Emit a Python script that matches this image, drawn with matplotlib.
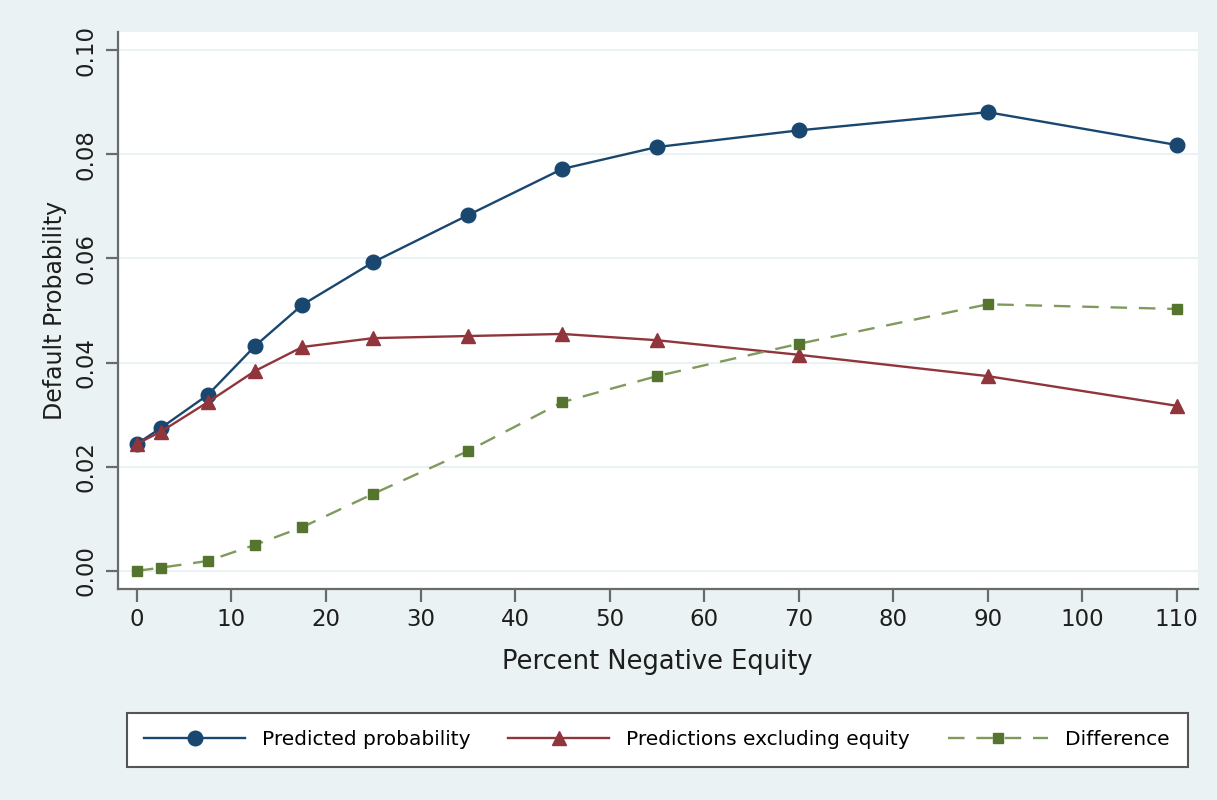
import numpy as np
import matplotlib
matplotlib.use("Agg")
import matplotlib.pyplot as plt

plt.rcParams["font.family"] = ["DejaVu Sans"]

# data
neg_equity = [0, 2.5, 7.5, 12.5, 17.5, 25, 35, 45, 55, 70, 90, 110]
pred_prob = [0.0244, 0.0274, 0.0338, 0.0432, 0.0511, 0.0593, 0.0683, 0.0772, 0.0814, 0.0846, 0.0881, 0.0818]
pred_excl = [0.0244, 0.0267, 0.0324, 0.0384, 0.0430, 0.0447, 0.0451, 0.0455, 0.0443, 0.0415, 0.0374, 0.0317]
difference = [0.0000, 0.0006, 0.0019, 0.0050, 0.0084, 0.0148, 0.0230, 0.0324, 0.0374, 0.0436, 0.0512, 0.0503]
x_ticks = np.arange(0, 111, 10)
y_ticks = [0.00, 0.02, 0.04, 0.06, 0.08, 0.10]

bg = "#EAF2F3"
navy = "#1a476f"
maroon = "#90353b"
green = "#55752f"

fig = plt.figure(figsize=(12.17, 8), dpi=100)
fig.patch.set_facecolor(bg)
ax = fig.add_axes([0.097, 0.264, 0.887, 0.696])
ax.set_facecolor("white")

for y in y_ticks:
    ax.axhline(y, color=bg, lw=1.5, zorder=0)

l1, = ax.plot(neg_equity, pred_prob, color=navy, lw=1.7, marker="o", ms=10.5,
              label="Predicted probability")
l2, = ax.plot(neg_equity, pred_excl, color=maroon, lw=1.7, marker="^", ms=9.5,
              label="Predictions excluding equity")
l3, = ax.plot(neg_equity, difference, color="#7f9a5c", lw=1.7, dashes=(7, 5),
              marker="s", ms=7.5, mfc=green, mec=green, label="Difference")

ax.set_xlim(-2.0, 112.2)
ax.set_ylim(-0.00345, 0.1035)
ax.set_xticks(x_ticks)
ax.set_yticks(y_ticks)
ax.set_yticklabels(["%.2f" % v for v in y_ticks], rotation=90, va="center")

for s in ["top", "right"]:
    ax.spines[s].set_visible(False)
for s in ["left", "bottom"]:
    ax.spines[s].set_color("#6a6a6a")
    ax.spines[s].set_linewidth(1.6)
ax.tick_params(axis="both", direction="out", length=9, width=1.6, color="#6a6a6a",
               labelcolor="#1e1e1e")
ax.tick_params(axis="x", labelsize=16.5, pad=5)
ax.tick_params(axis="y", labelsize=16.5, pad=6)

ax.set_xlabel("Percent Negative Equity", fontsize=18.5, labelpad=13, color="#1e1e1e")
ax.set_ylabel("Default Probability", fontsize=17, labelpad=5, color="#1e1e1e")

leg = fig.legend(handles=[l1, l2, l3], loc="lower left",
                 bbox_to_anchor=(0.104, 0.041, 0.872, 0.068), mode="expand",
                 ncol=3, numpoints=1, handlelength=5.0, handletextpad=0.85,
                 fontsize=14.5, frameon=True, fancybox=False, borderpad=0.88,
                 borderaxespad=0, columnspacing=1.7, framealpha=1)
leg.get_frame().set_edgecolor("#555555")
leg.get_frame().set_linewidth(1.5)

fig.savefig("out.png", dpi=100, facecolor=bg)
